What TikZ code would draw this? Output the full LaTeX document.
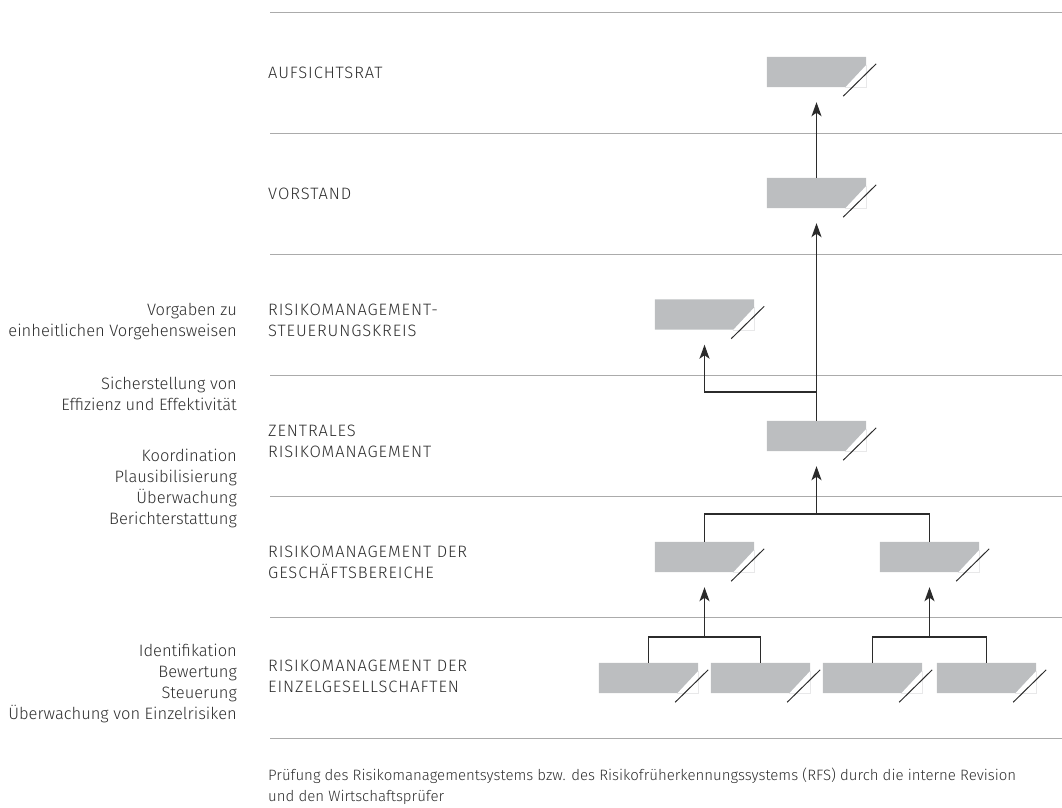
\documentclass[tikz,border=0pt]{standalone}
\usepackage{fontspec}
\setmainfont{Fira Sans Light}
\newfontfamily\capsfont[LetterSpace=5.5]{Fira Sans Light}
\usepackage{tikz}
\usetikzlibrary{arrows.meta}
\definecolor{boxgray}{HTML}{BCBEC0}
\definecolor{rulegray}{HTML}{ABABAB}
\definecolor{txtgray}{HTML}{2E2E2E}
\definecolor{linegray}{HTML}{2B2B2B}

\begin{document}
\begin{tikzpicture}[x=1pt, y=-1pt,
    every node/.style={font=\fontsize{16.5}{20.7}\selectfont, text=txtgray, inner sep=0pt},
    level/.style={anchor=base west, align=left, font=\capsfont\fontsize{16.5}{20.7}\selectfont},
    task/.style={anchor=base east, align=right},
    remark/.style={anchor=base west, align=left, font=\fontsize{15}{20.7}\selectfont},
    rmbox/.style={rectangle, minimum width=99pt, minimum height=30pt, inner sep=0pt},
    rule/.style={draw=rulegray, line width=0.9pt},
    link/.style={draw=linegray, line width=1.3pt},
    up/.style={link, -{Stealth[length=14pt, width=10pt, inset=3.5pt]}, shorten >=15pt}]
\useasboundingbox (0,0) rectangle (1062,807);

% rules between the levels
\foreach \y in {12,133,254,375,496,617,738}
    \draw[rule] (270,\y) -- (1062,\y);

% level names (base = last line)
\node[level] (l-auf)  at (268,78)  {AUFSICHTSRAT};
\node[level] (l-vor)  at (268,199) {VORSTAND};
\node[level] (l-steu) at (268,336) {RISIKOMANAGEMENT-\\STEUERUNGSKREIS};
\node[level] (l-zen)  at (268,457) {ZENTRALES\\RISIKOMANAGEMENT};
\node[level] (l-gb)   at (268,578) {RISIKOMANAGEMENT DER\\GESCH\"AFTSBEREICHE};
\node[level] (l-eg)   at (268,692) {RISIKOMANAGEMENT DER\\EINZELGESELLSCHAFTEN};

% tasks
\node[task] (t-steu) at (237,336) {Vorgaben zu\\einheitlichen Vorgehensweisen};
\node[task] (t-eff)  at (237,410) {Sicherstellung von\\Effizienz und Effektivit\"at};
\node[task] (t-zen)  at (237,524) {Koordination\\Plausibilisierung\\\"Uberwachung\\Berichterstattung};
\node[task] (t-eg)   at (237,719) {Identifikation\\Bewertung\\Steuerung\\\"Uberwachung von Einzelrisiken};

\node[remark] (note) at (268,801) {Pr\"ufung des Risikomanagementsystems bzw. des Risikofr\"uherkennungssystems (RFS) durch die interne Revision\\und den Wirtschaftspr\"ufer};

% boxes
\node[rmbox] (auf)  at (816.5,72)  {};
\node[rmbox] (vor)  at (816.5,193) {};
\node[rmbox] (steu) at (704.5,314.5) {};
\node[rmbox] (zen)  at (816.5,436) {};
\node[rmbox] (gbl)  at (704.5,557) {};
\node[rmbox] (gbr)  at (929.5,557) {};
\node[rmbox] (e1)   at (648.5,678) {};
\node[rmbox] (e2)   at (760.5,678) {};
\node[rmbox] (e3)   at (872.5,678) {};
\node[rmbox] (e4)   at (986.5,678) {};

\foreach \b in {auf,vor,steu,zen,gbl,gbr,e1,e2,e3,e4}{
    \fill[boxgray] (\b.north west) -- (\b.north east) -- ([yshift=-8pt]\b.north east) --
        ([xshift=-21pt]\b.south east) -- (\b.south west) -- cycle;
    \draw[boxgray!35, line width=0.4pt] ([yshift=-8pt]\b.north east) -- (\b.south east) --
        ([xshift=-21pt]\b.south east);
    \draw[linegray, line width=1pt] ([xshift=10pt,yshift=-7pt]\b.north east) --
        ([xshift=-23pt,yshift=-9pt]\b.south east);
}

% reporting lines
\coordinate (zen-split) at (816.5,392);
\coordinate (gb-join)   at (816.5,514);
\coordinate (el-join)   at (704.5,637);
\coordinate (er-join)   at (929.5,637);

\draw[up] (vor.north) -- (auf.south);
\draw[link] (zen.north) -- (zen-split);
\draw[up] (zen-split) -- (vor.south);
\draw[up] (zen-split) -| (steu.south);
\draw[link] (gbl.north) |- (gb-join) -| (gbr.north);
\draw[up] (gb-join) -- (zen.south);
\draw[link] (e1.north) |- (el-join) -| (e2.north);
\draw[up] (el-join) -- (gbl.south);
\draw[link] (e3.north) |- (er-join) -| (e4.north);
\draw[up] (er-join) -- (gbr.south);
\end{tikzpicture}
\end{document}
